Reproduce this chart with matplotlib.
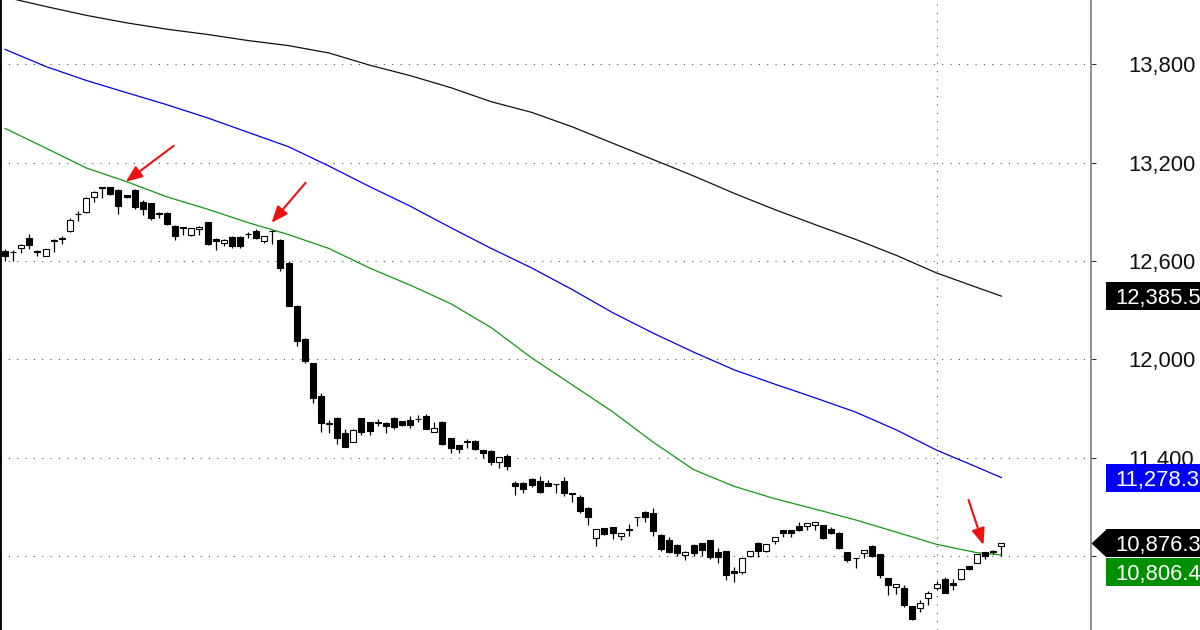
import matplotlib
matplotlib.use('Agg')
import matplotlib.pyplot as plt
from matplotlib.patches import Rectangle, Polygon
import numpy as np

plt.rcParams['font.family'] = ['Liberation Sans', 'DejaVu Sans']

# daily candles, oldest first
opens = [12663, 12656, 12677, 12738, 12662, 12632, 12722, 12736, 12784, 12884,
         12900, 12992, 13048, 13049, 13033, 13002, 13033, 12961, 12951, 12894,
         12894, 12813, 12805, 12758, 12793, 12836, 12734, 12711, 12748, 12748,
         12762, 12782, 12723, 12783, 12728, 12585, 12327, 12124, 11975, 11776,
         11607, 11643, 11552, 11497, 11640, 11615, 11611, 11613, 11643, 11623,
         11629, 11635, 11656, 11558, 11619, 11518, 11477, 11497, 11503, 11446,
         11442, 11375, 11411, 11247, 11247, 11268, 11259, 11247, 11239, 11259,
         11186, 11161, 11094, 10907, 10968, 10975, 10922, 10960, 11039, 11070,
         11060, 10931, 10900, 10867, 10806, 10867, 10877, 10897, 10826, 10832,
         10710, 10704, 10799, 10877, 10830, 10891, 10958, 10958, 10983, 10984,
         10989, 10991, 10962, 10943, 10826, 10789, 10821, 10862, 10812, 10663,
         10612, 10602, 10494, 10480, 10541, 10602, 10657, 10633, 10657, 10738,
         10759, 10826, 10824, 10861]
highs = [12670, 12667, 12703, 12764, 12667, 12673, 12732, 12754, 12860, 12905,
         12990, 13028, 13051, 13051, 13039, 13005, 13039, 12972, 12956, 12896,
         12898, 12819, 12807, 12801, 12813, 12837, 12740, 12731, 12752, 12752,
         12778, 12795, 12755, 12789, 12734, 12600, 12331, 12128, 11980, 11796,
         11629, 11648, 11572, 11574, 11642, 11620, 11634, 11617, 11648, 11626,
         11654, 11660, 11666, 11619, 11623, 11519, 11480, 11512, 11507, 11449,
         11446, 11404, 11420, 11259, 11251, 11274, 11288, 11263, 11241, 11283,
         11187, 11172, 11098, 10964, 10970, 10976, 10940, 10993, 11040, 11076,
         11094, 10934, 10914, 10870, 10830, 10870, 10879, 10900, 10846, 10833,
         10730, 10787, 10833, 10887, 10873, 10918, 10961, 10961, 11009, 11001,
         11007, 10992, 10978, 10944, 10827, 10790, 10836, 10864, 10814, 10665,
         10632, 10622, 10497, 10531, 10588, 10649, 10670, 10657, 10720, 10741,
         10815, 10827, 10836, 10879]
lows = [12601, 12601, 12646, 12671, 12630, 12632, 12656, 12703, 12778, 12845,
        12894, 12961, 12982, 13002, 12886, 12984, 12917, 12880, 12850, 12860,
        12819, 12728, 12758, 12755, 12758, 12700, 12667, 12691, 12677, 12679,
        12738, 12734, 12711, 12703, 12540, 12325, 12081, 11975, 11731, 11558,
        11548, 11483, 11463, 11495, 11538, 11538, 11593, 11548, 11573, 11593,
        11579, 11619, 11572, 11556, 11480, 11426, 11426, 11457, 11446, 11395,
        11355, 11335, 11324, 11172, 11186, 11222, 11182, 11224, 11182, 11166,
        11131, 11060, 10989, 10860, 10928, 10901, 10897, 10922, 10983, 11009,
        10919, 10830, 10816, 10802, 10778, 10800, 10800, 10779, 10755, 10653,
        10643, 10690, 10792, 10792, 10827, 10871, 10914, 10914, 10955, 10958,
        10958, 10906, 10937, 10845, 10765, 10724, 10787, 10792, 10663, 10562,
        10568, 10490, 10412, 10460, 10500, 10592, 10574, 10592, 10656, 10717,
        10757, 10779, 10812, 10800]
closes = [12630, 12652, 12697, 12697, 12652, 12673, 12726, 12740, 12850, 12888,
          12982, 13019, 13050, 13008, 12935, 12988, 12927, 12915, 12860, 12886,
          12825, 12752, 12799, 12799, 12809, 12703, 12722, 12728, 12691, 12691,
          12766, 12738, 12752, 12781, 12555, 12327, 12111, 11989, 11762, 11613,
          11611, 11518, 11466, 11568, 11558, 11564, 11615, 11595, 11589, 11599,
          11599, 11633, 11573, 11579, 11483, 11457, 11451, 11501, 11451, 11426,
          11371, 11402, 11349, 11227, 11206, 11233, 11192, 11227, 11237, 11182,
          11178, 11076, 11036, 10962, 10934, 10942, 10938, 10964, 11037, 11036,
          10954, 10840, 10826, 10820, 10827, 10820, 10836, 10791, 10795, 10684,
          10694, 10785, 10832, 10832, 10871, 10917, 10938, 10938, 10958, 10999,
          11005, 10907, 10938, 10846, 10775, 10787, 10834, 10799, 10684, 10622,
          10629, 10500, 10415, 10511, 10572, 10629, 10575, 10622, 10718, 10720,
          10812, 10799, 10828, 10876.3]

# moving averages, read at every fifth bar
ma_idx = [0, 5, 10, 15, 20, 25, 30, 35, 40, 45, 50, 55, 60, 65, 70, 75, 80,
          85, 90, 95, 100, 105, 110, 115, 120, 123]
ma_black = [14210, 14153, 14099, 14053, 14014, 13982, 13945, 13914, 13869,
            13795, 13731, 13658, 13572, 13507, 13419, 13319, 13219, 13119,
            13013, 12914, 12822, 12732, 12635, 12527, 12438, 12385.5]
ma_blue = [13891, 13787, 13702, 13627, 13553, 13473, 13385, 13297, 13179,
           13054, 12935, 12804, 12677, 12558, 12426, 12285, 12160, 12044,
           11936, 11849, 11765, 11678, 11570, 11446, 11342, 11278.3]
ma_green = [13409, 13290, 13168, 13084, 12991, 12916, 12834, 12761, 12676,
            12557, 12453, 12340, 12194, 12009, 11845, 11680, 11495, 11327,
            11225, 11150, 11086, 11020, 10946, 10871, 10820, 10806.4]

# red arrows: tip (bar, price) and tail offset in pixels
arrow_x = [14.9, 32.9, 120.8]
arrow_y = [13083, 12833, 10867]
arrow_off = [(48, 36), (34, 40), (-15, 45)]

yticks = [10800, 11400, 12000, 12600, 13200, 13800]
month_line = 115

W, H = 1200, 630
fig = plt.figure(figsize=(W / 100, H / 100), dpi=100)
ax = fig.add_axes([0, 0, 1091 / W, 1])
ax.set_xlim(-0.62, 134.07)
ax.set_ylim(10348.3, 14192.3)

n = len(opens)
x = np.arange(n)
o = np.array(opens)
c = np.array(closes)
ax.vlines(x, lows, highs, color='black', lw=0.9, zorder=3)
fills = np.where(c >= o, 'white', 'black')
ax.bar(x, np.abs(c - o), bottom=np.minimum(o, c), width=0.74, color=fills,
       edgecolor='black', linewidth=0.8, zorder=4)

ax.plot(ma_idx, ma_black, color='#111111', lw=0.9, zorder=2)
ax.plot(ma_idx, ma_blue, color='#0000ee', lw=0.9, zorder=2)
ax.plot(ma_idx, ma_green, color='#119911', lw=0.9, zorder=2)

for ax_, ay_, (dx, dy) in zip(arrow_x, arrow_y, arrow_off):
    ax.annotate('', xy=(ax_, ay_), xytext=(dx, dy), textcoords='offset pixels',
                arrowprops=dict(arrowstyle='-|>,head_length=1.0,head_width=0.4',
                                mutation_scale=10, color='#ee1111', lw=1.5,
                                shrinkA=0, shrinkB=0), zorder=6)

# dotted grid
for v in yticks:
    ax.axhline(v, color='#555555', lw=0.8, dashes=(1, 6.5), zorder=1)
ax.axvline(month_line, color='#555555', lw=0.8, dashes=(1, 6.5), zorder=1)

for s in ['top', 'bottom']:
    ax.spines[s].set_visible(False)
ax.spines['left'].set_color('black')
ax.spines['left'].set_linewidth(2)
ax.spines['right'].set_color('#888888')
ax.spines['right'].set_linewidth(1.3)
ax.set_xticks([])
ax.yaxis.tick_right()
ax.set_yticks(yticks)
# 10,800 sits under the price tags, so leave its label out
ax.set_yticklabels(['' if v == 10800 else '{:,}'.format(v) for v in yticks])
ax.tick_params(axis='y', direction='out', length=3.6, width=0.8,
               color='#333333', pad=23.5, labelsize=15.8, labelcolor='#111111')

# value tags on the price scale
tag = fig.add_axes([1091 / W, 0, 109 / W, 1], zorder=5)
tag.set_xlim(0, 109)
tag.set_ylim(ax.get_ylim())
tag.axis('off')
tag.patch.set_visible(False)
upp = (14192.3 - 10348.3) / H
th = 28 * upp


def draw_tag(val, center, color, pointer=False):
    tag.add_patch(Rectangle((15, center - th / 2), 100, th, color=color, lw=0))
    if pointer:
        tag.add_patch(Polygon([(0.5, center), (15.5, center + th / 2),
                               (15.5, center - th / 2)], color=color, lw=0))
    tag.text(24, center, '{:,.1f}'.format(val), color='white', fontsize=15.8,
             va='center_baseline', ha='left')


last = closes[-1]
draw_tag(ma_black[-1], ma_black[-1], 'black')
draw_tag(ma_blue[-1], ma_blue[-1], '#0000ff')
draw_tag(last, last, 'black', pointer=True)
g_center = min(ma_green[-1], last - th - 1 * upp)
draw_tag(ma_green[-1], g_center, '#008f00')

fig.savefig('out.png', dpi=100)
